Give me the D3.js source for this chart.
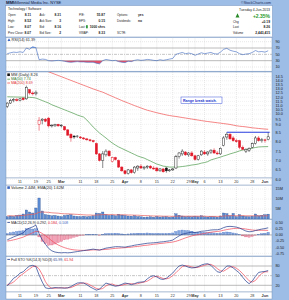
<!DOCTYPE html>
<html>
<head>
<meta charset="utf-8">
<script src="https://d3js.org/d3.v7.min.js"></script>
<style>
  body {margin:0;background:#fff;}
  svg {display:block;font-family:"Liberation Sans", Arial, sans-serif;}
</style>
</head>
<body>
<div id="chart"></div>
<script>
// trading days, Feb 5 .. Jun 4 2013
const dates = ["02-05","02-06","02-07","02-08","02-11","02-12","02-13","02-14","02-15","02-19","02-20","02-21","02-22","02-25","02-26","02-27","02-28",
  "03-01","03-04","03-05","03-06","03-07","03-08","03-11","03-12","03-13","03-14","03-15","03-18","03-19","03-20","03-21","03-22","03-25","03-26","03-27","03-28",
  "04-01","04-02","04-03","04-04","04-05","04-08","04-09","04-10","04-11","04-12","04-15","04-16","04-17","04-18","04-19","04-22","04-23","04-24","04-25","04-26","04-29","04-30",
  "05-01","05-02","05-03","05-06","05-07","05-08","05-09","05-10","05-13","05-14","05-15","05-16","05-17","05-20","05-21","05-22","05-23","05-24","05-28","05-29","05-30","05-31",
  "06-03","06-04"];

const open  = [10.9,11.3,11.6,11.7,11.6,11.9,11.8,12.9,12.5,12.4, 9.0,9.4,9.5,9.6,8.9,8.9,9.0,8.9,8.85,8.65, 8.4,8.3,8.3,8.25,8.2,8.15,8.1,8.05,7.9,7.35,
  7.0,7.3,7.5,6.95,7.15,7.0,6.65,6.45,6.3,6.5, 6.35,6.6,6.7,6.6,6.65,6.7,6.6,6.6,6.45,6.55, 6.6,6.45,6.5,6.6,7.2,7.35,7.45,7.3,7.4,7.25,
  7.05,7.3,7.45,7.35,7.45,7.55,7.4,7.35,7.8,8.25, 8.4,8.2,8.05,8.05,7.7,7.5,7.55,7.7,7.9,8.2, 8.05,8.1,8.11];
const high  = [11.4,11.8,11.9,11.9,11.9,12.0,13.4,13.0,12.7,12.8, 9.7,9.6,9.6,9.7,9.0,9.05,9.05,9.0,8.9,8.7, 8.45,8.35,8.35,8.3,8.25,8.2,8.15,8.1,7.95,7.4,
  7.5,7.6,7.55,7.2,7.2,7.05,6.7,6.5,6.55,6.55, 6.7,6.75,6.8,6.7,6.75,6.75,6.7,6.65,6.6,6.6, 6.65,6.55,6.6,7.3,7.45,7.6,7.5,7.45,7.5,7.3,
  7.3,7.55,7.55,7.5,7.6,7.65,7.5,7.7,8.3,8.5, 8.45,8.3,8.15,8.1,7.8,7.65,7.7,7.95,8.3,8.3, 8.2,8.15,8.52];
const low   = [10.7,11.2,11.4,11.5,11.5,11.6,11.7,12.3,12.2,12.2, 8.6,9.0,9.2,8.8,8.8,8.85,8.85,8.8,8.6,8.3, 8.0,8.15,8.2,8.15,8.1,8.05,8.0,7.95,7.3,6.95,
  6.6,7.2,7.2,6.9,7.0,6.6,6.4,6.25,6.25,6.3, 6.3,6.45,6.55,6.5,6.55,6.55,6.5,6.4,6.4,6.35, 6.35,6.4,6.45,6.55,7.1,7.25,7.25,7.2,7.2,7.0,
  7.0,7.25,7.3,7.25,7.35,7.35,7.3,7.3,7.75,8.1, 8.1,8.0,7.95,7.6,7.55,7.4,7.45,7.65,7.85,8.0, 7.95,7.95,8.07];
const close = [11.3,11.6,11.7,11.6,11.8,11.7,13.2,12.5,12.4,12.6, 9.4,9.5,9.3,8.9,8.95,9.0,8.9,8.95,8.65,8.35, 8.2,8.25,8.3,8.2,8.15,8.1,8.05,8.0,7.35,7.0,
  7.35,7.5,7.25,7.15,7.05,6.65,6.45,6.3,6.5,6.35, 6.65,6.7,6.6,6.65,6.7,6.6,6.55,6.45,6.55,6.4, 6.45,6.5,6.55,7.2,7.4,7.5,7.3,7.4,7.25,7.05,
  7.25,7.5,7.35,7.45,7.55,7.4,7.35,7.65,8.2,8.4, 8.15,8.05,8.0,7.7,7.6,7.6,7.65,7.9,8.2,8.05, 8.1,8.07,8.26];

const ma50  = [12.05,12.04,12.03,12.02,12.01,12.0,11.99,11.98,11.96,11.9, 11.75,11.6,11.45,11.3,11.1,10.95,10.8,10.65,10.5,10.35,
  10.2,10.05,9.9,9.8,9.7,9.42,9.08,8.83,8.64,8.46, 8.33,8.2,8.06,7.93,7.82,7.72,7.64,7.56,7.48,7.4, 7.32,7.24,7.18,7.13,7.05,6.97,6.89,6.81,6.76,6.7,
  6.68,6.65,6.65,6.65,6.66,6.68,6.7,6.73,6.76,6.78, 6.81,6.86,6.89,6.94,7.03,7.08,7.13,7.18,7.24,7.29, 7.35,7.4,7.45,7.51,7.56,7.58,7.61,7.66,7.69,7.72, 7.73,7.735,7.74];
const ma200 = [16.6,16.5,16.4,16.3,16.2,16.1,16.0,15.9,15.8,15.7, 15.55,15.4,15.25,15.1,14.95,14.8,14.65,14.5,14.35,14.2,
  14.05,13.9,13.75,13.6,13.45,13.3,13.15,13.0,12.87,12.73, 12.6,12.43,12.26,12.1,11.93,11.77,11.6,11.45,11.3,11.15, 11.0,10.86,10.72,10.58,10.45,10.35,10.25,10.15,10.06,9.98,
  9.91,9.85,9.8,9.76,9.71,9.66,9.61,9.56,9.51,9.46, 9.41,9.36,9.31,9.27,9.23,9.19,9.15,9.11,9.07,9.03, 8.99,8.95,8.91,8.88,8.86,8.84,8.81,8.78,8.76,8.74, 8.72,8.7,8.69];

// volume in millions
const volume = [1.2,1.5,1.3,1.8,2.0,2.5,4.5,3.5,3.0,5.5, 10.5,4.0,2.2,2.0,1.6,1.8,1.5,1.2,1.8,2.0, 2.2,1.5,1.3,1.2,1.4,1.1,1.3,1.6,3.0,2.8,
  3.5,2.2,1.8,2.0,1.6,2.4,2.0,1.8,1.5,1.4, 1.7,1.2,1.1,0.9,1.0,1.1,0.9,1.3,1.0,1.1, 1.2,0.9,1.0,2.6,1.9,1.5,1.2,1.3,1.1,1.4,
  1.2,1.6,1.1,1.0,1.2,1.1,0.9,1.5,3.0,2.7, 1.6,2.8,1.2,2.2,1.5,1.3,1.2,1.4,2.5,1.6, 1.9,2.2,2.44];
const volEma = [1.6,1.6,1.6,1.6,1.7,1.8,2.0,2.2,2.3,2.6, 3.4,3.5,3.4,3.3,3.1,3.0,2.9,2.7,2.6,2.6, 2.5,2.4,2.3,2.2,2.1,2.0,2.0,1.9,2.0,2.1,
  2.2,2.2,2.2,2.2,2.1,2.1,2.1,2.1,2.0,2.0, 1.9,1.9,1.8,1.7,1.7,1.6,1.5,1.5,1.5,1.4, 1.4,1.4,1.3,1.4,1.4,1.4,1.4,1.4,1.4,1.4,
  1.4,1.4,1.4,1.3,1.3,1.3,1.3,1.3,1.5,1.6, 1.6,1.7,1.6,1.7,1.7,1.6,1.6,1.6,1.6,1.55, 1.55,1.56,1.62];

const rsi = [52,55,57,56,58,56,70,66,74,71, 33,35,34,30,29,30,31,30,28,26, 25,26,27,26,26,25,25,25,22,20,
  30,34,32,30,31,27,25,24,28,27, 31,33,31,32,34,33,31,30,33,31, 33,35,37,50,53,56,52,54,52,47,
  51,55,52,54,56,52,51,57,66,69, 63,60,58,52,49,51,52,56,62,58, 59,57,61.39];

const macd = [-0.20,-0.14,-0.08,-0.03,0.03,0.08,0.22,0.28,0.33,0.40, 0.05,-0.20,-0.38,-0.55,-0.65,-0.70,-0.72,-0.73,-0.72,-0.73,
  -0.72,-0.70,-0.68,-0.66,-0.64,-0.62,-0.60,-0.58,-0.60,-0.62, -0.58,-0.54,-0.52,-0.50,-0.48,-0.48,-0.49,-0.50,-0.47,-0.45,
  -0.42,-0.40,-0.38,-0.36,-0.34,-0.33,-0.32,-0.31,-0.29,-0.28, -0.26,-0.24,-0.21,-0.12,-0.04,0.03,0.06,0.09,0.11,0.10,
  0.12,0.15,0.16,0.18,0.20,0.21,0.21,0.24,0.30,0.34, 0.35,0.34,0.32,0.28,0.22,0.16,0.13,0.14,0.18,0.21, 0.24,0.26,0.292];
const signal = [-0.25,-0.23,-0.20,-0.17,-0.13,-0.09,-0.03,0.03,0.09,0.15, 0.13,0.06,-0.03,-0.13,-0.24,-0.33,-0.41,-0.47,-0.52,-0.56,
  -0.59,-0.61,-0.62,-0.63,-0.63,-0.63,-0.62,-0.61,-0.61,-0.61, -0.60,-0.59,-0.58,-0.56,-0.55,-0.54,-0.53,-0.52,-0.51,-0.50,
  -0.48,-0.47,-0.45,-0.43,-0.42,-0.40,-0.38,-0.37,-0.35,-0.34, -0.32,-0.31,-0.29,-0.26,-0.22,-0.17,-0.12,-0.08,-0.04,-0.01,
  0.01,0.04,0.06,0.09,0.11,0.13,0.14,0.16,0.19,0.22, 0.24,0.26,0.27,0.27,0.26,0.24,0.22,0.20,0.19,0.19, 0.19,0.19,0.184];

const stoK = [18,30,42,48,58,62,72,80,82,78, 52,30,12,10,11,13,12,12,11,12, 16,22,27,28,27,22,15,10,5,8,
  18,27,24,20,17,19,23,27,25,22, 25,29,30,31,40,47,50,46,40,38, 42,50,58,70,80,83,80,76,74,75,
  78,83,86,87,82,72,62,60,70,80, 80,74,66,58,45,33,25,33,48,60, 62,63,65.99];
const stoD = [22,25,30,40,49,56,64,71,78,80, 71,53,31,17,11,11,12,12,12,12, 13,17,22,26,27,26,21,16,10,8,
  10,18,23,24,20,19,20,23,25,25, 24,25,28,30,33,39,46,48,45,41, 40,43,50,59,69,78,81,80,77,75,
  76,79,82,85,85,80,72,65,64,70, 77,78,73,66,56,45,34,30,35,47, 57,62,61.94];

const weekLabels = ["11","19","25","Mar","11","18","25","Apr","8","15","22","29","May","6","13","20","28","Jun"];
const weekDates  = ["02-11","02-19","02-25","03-01","03-11","03-18","03-25","04-01","04-08","04-15","04-22","04-29","05-01","05-06","05-13","05-20","05-28","06-03"];

const priceTicks = [14.5,14.0,13.5,13.0,12.5,12.0,11.5,11.0,10.5,10.0,9.5,9.0,8.5,8.0,7.5,7.0,6.5,6.0];
const rsiTicks = [90,70,50,30,10];
const volTicks = [15,10,5];
const macdTicks = [0.5,0.25,0,-0.25,-0.5,-0.75];
const stoTicks = [80,50,20];

const hdrLeft = [["Open:","8.11","Ask:","8.31","P/E:","55.87","Options:","yes"],
                 ["High:","8.52","Ask Size:","3","EPS:","0.15","Dividends:","no"],
                 ["Low:","8.07","Bid:","8.16","Last:","1000 shrs","",""],
                 ["Prev Close:","8.07","Bid Size:","2","VWAP:","8.33","SCTR:",""]];
const hdrRight = [["Chg","+0.19"],["Last","8.26"],["Volume","2,443,415"]];

// ---------------------------------------------------------------
const W = 289, H = 300, X0 = 6, X1 = 272, AX = 275.5;
const svg = d3.select("#chart").append("svg").attr("width", W).attr("height", H);
svg.append("rect").attr("width", W).attr("height", H).attr("fill", "#9dbce6");

const x = d3.scaleLinear().domain([-0.4, dates.length + 0.2]).range([X0, X1]);
const idx = d => dates.indexOf(d);

function txt(g, px, py, s, o = {}) {
  return g.append("text").attr("x", px).attr("y", py).text(s)
    .attr("font-size", o.size || 4).attr("fill", o.fill || "#222")
    .attr("font-weight", o.bold ? "bold" : null)
    .attr("text-anchor", o.anchor || "start");
}

const panels = {
  rsi:   [37.5, 71.2],
  price: [72, 178],
  vol:   [185, 219],
  macd:  [219.5, 256],
  sto:   [256.5, 292]
};

// title
txt(svg, 6, 4.4, "MM", {size: 4.4, bold: true, fill: "#101838"});
txt(svg, 13, 4.4, "Millennial Media Inc.  NYSE", {size: 4.0, fill: "#101838"});
txt(svg, 271, 4.4, "©StockCharts.com", {size: 3.6, fill: "#20305a", anchor: "end"});

// header box
svg.append("rect").attr("x", 5.5).attr("y", 5.5).attr("width", X1 - 5).attr("height", 31.5)
  .attr("fill", "#fff").attr("stroke", "#6f8fbf").attr("stroke-width", 0.5);
txt(svg, 8, 9.6, "Technology / Software", {size: 3.4});
const colX = [[8, 31], [39.5, 61], [79, 105], [117, 138]];
hdrLeft.forEach((row, r) => {
  const yy = 16.4 + r * 5.7;
  for (let c = 0; c < 4; c++) {
    txt(svg, colX[c][0], yy, row[c * 2], {size: 3.0});
    if (c < 3) txt(svg, colX[c][1], yy, row[c * 2 + 1], {size: 3.3, bold: true, anchor: "end"});
    else txt(svg, colX[c][1], yy, row[c * 2 + 1], {size: 3.3, bold: true});
  }
});
svg.append("rect").attr("x", 86).attr("y", 25.2).attr("width", 1.8).attr("height", 3.1).attr("fill", "#2e9a3c");
txt(svg, 270, 10.8, "Tuesday  4-Jun-2013", {size: 3.4, anchor: "end"});
txt(svg, 270, 17.6, "+2.35%", {size: 5.0, bold: true, fill: "#2a9a2a", anchor: "end"});
svg.append("path").attr("d", "M235.5,17.4 L237.5,13.2 L239.5,17.4 Z").attr("fill", "#2a8a2a");
hdrRight.forEach((r, k) => {
  const yy = 22.6 + k * 5.7;
  txt(svg, 233, yy, r[0], {size: 3.1});
  txt(svg, 270, yy, r[1], {size: 3.3, bold: true, anchor: "end"});
});

// panel backgrounds
Object.values(panels).forEach(([a, b]) => {
  svg.append("rect").attr("x", X0).attr("y", a).attr("width", X1 - X0).attr("height", b - a)
    .attr("fill", "#fff").attr("stroke", "#7d97bd").attr("stroke-width", 0.5);
});
// date strips
[[178, 185], [292, 299]].forEach(([a, b]) => {
  svg.append("rect").attr("x", X0).attr("y", a).attr("width", X1 - X0).attr("height", b - a)
    .attr("fill", "#fff").attr("stroke", "#7d97bd").attr("stroke-width", 0.5);
});

// vertical grid + date labels
Object.values(panels).forEach(([a, b]) => {
  weekDates.forEach(d => {
    svg.append("line").attr("x1", x(idx(d))).attr("x2", x(idx(d))).attr("y1", a).attr("y2", b)
      .attr("stroke", "#c4c4c4").attr("stroke-width", 0.4).attr("stroke-dasharray", "1,1");
  });
});
[182.6, 297.3].forEach(yy => {
  weekLabels.forEach((l, k) => {
    const month = isNaN(+l);
    txt(svg, x(idx(weekDates[k])), yy, l, {size: 3.8, anchor: "middle", bold: month, fill: "#333"});
  });
});

function hline(y, style) {
  const l = svg.append("line").attr("x1", X0).attr("x2", X1).attr("y1", y).attr("y2", y)
    .attr("stroke", style.c || "#999").attr("stroke-width", style.w || 0.5);
  if (style.dash) l.attr("stroke-dasharray", style.dash);
  return l;
}
function axisLabels(ticks, scale, fmt) {
  ticks.forEach(t => txt(svg, AX, scale(t) + 1.4, fmt(t), {size: 3.8, fill: "#1a1a1a"}));
}
function clip(id, [a, b]) {
  svg.append("clipPath").attr("id", id).append("rect")
    .attr("x", X0).attr("y", a).attr("width", X1 - X0).attr("height", b - a);
  return svg.append("g").attr("clip-path", `url(#${id})`);
}

// ---------------- RSI ----------------
const yRsi = d3.scaleLinear().domain([90, 10]).range([41.7, 67]);
[90, 10].forEach(v => hline(yRsi(v), {c: "#c4c4c4", w: 0.4, dash: "1,1"}));
hline(yRsi(70), {c: "#8c8c8c", w: 0.6});
hline(yRsi(30), {c: "#8c8c8c", w: 0.6});
hline(yRsi(50), {c: "#8c8c8c", w: 0.5, dash: "3,1,1,1"});
const gR = clip("cr", panels.rsi);
gR.append("path").datum(rsi)
  .attr("d", d3.area().x((d, i) => x(i)).y0(yRsi(70)).y1(d => yRsi(Math.max(d, 70))))
  .attr("fill", "#7aa0e0");
gR.append("path").datum(rsi)
  .attr("d", d3.area().x((d, i) => x(i)).y0(yRsi(30)).y1(d => yRsi(Math.min(d, 30))))
  .attr("fill", "#e0506a");
gR.append("path").datum(rsi)
  .attr("d", d3.line().x((d, i) => x(i)).y(d => yRsi(d)))
  .attr("fill", "none").attr("stroke", "#3d68c0").attr("stroke-width", 0.6);
axisLabels(rsiTicks, yRsi, d => d);
svg.append("path").attr("d", "M7.5,41 L9,38.2 L10.5,41 Z").attr("fill", "#3d68c0");
txt(svg, 11.5, 41, "RSI(14) 61.39", {size: 3.8});

// ---------------- Price ----------------
const yPrice = d3.scaleLinear()
  .domain([6.0, 8.5, 9.0, 10.0, 12.5, 14.5])
  .range([179.3, 132.3, 124.3, 114, 93, 76.7]);
priceTicks.forEach(t => hline(yPrice(t), {c: "#d6d6d6", w: 0.35, dash: "1,1"}));
axisLabels(priceTicks, yPrice, d => d.toFixed(1));
const gP = clip("cp", panels.price);
const lineP = d3.line().x((d, i) => x(i)).y(d => yPrice(d));
gP.append("path").datum(ma200).attr("d", lineP).attr("fill", "none")
  .attr("stroke", "#f05050").attr("stroke-width", 0.7);
gP.append("path").datum(ma50).attr("d", lineP).attr("fill", "none")
  .attr("stroke", "#4c9a4c").attr("stroke-width", 0.7);

const candles = gP.selectAll("g.c").data(dates).join("g").attr("class", "c");
const col = i => close[i] >= (i ? close[i - 1] : open[i]) ? "#111" : "#e01828";
candles.append("line")
  .attr("x1", (d, i) => x(i)).attr("x2", (d, i) => x(i))
  .attr("y1", (d, i) => yPrice(high[i])).attr("y2", (d, i) => yPrice(low[i]))
  .attr("stroke", (d, i) => col(i)).attr("stroke-width", 0.5);
candles.append("rect")
  .attr("x", (d, i) => x(i) - 1.1).attr("width", 2.2)
  .attr("y", (d, i) => yPrice(Math.max(open[i], close[i])))
  .attr("height", (d, i) => Math.max(0.5, Math.abs(yPrice(open[i]) - yPrice(close[i]))))
  .attr("fill", (d, i) => close[i] >= open[i] ? "#fff" : col(i))
  .attr("stroke", (d, i) => col(i)).attr("stroke-width", 0.45);

// resistance line + note
gP.append("line").attr("x1", x(idx("05-15"))).attr("x2", x(idx("06-04")) + 1.5)
  .attr("y1", yPrice(8.5)).attr("y2", yPrice(8.5))
  .attr("stroke", "#2a3fe0").attr("stroke-width", 1.1);
svg.append("rect").attr("x", 181).attr("y", 97).attr("width", 41).attr("height", 6.5)
  .attr("fill", "#fff").attr("stroke", "#3a55d8").attr("stroke-width", 0.5);
txt(svg, 183, 101.7, "Range break watch.", {size: 3.6, fill: "#2233cc", bold: true});

// price labels
svg.append("rect").attr("x", 7.3).attr("y", 73.4).attr("width", 2.6).attr("height", 2.6).attr("fill", "#111");
txt(svg, 11, 76.2, "MM (Daily) 8.26", {size: 3.8});
svg.append("line").attr("x1", 7.3).attr("x2", 10).attr("y1", 79.2).attr("y2", 79.2).attr("stroke", "#4c9a4c").attr("stroke-width", 0.8);
txt(svg, 11, 80.4, "MA(50) 7.74", {size: 3.6, fill: "#2e7a2e"});
svg.append("line").attr("x1", 7.3).attr("x2", 10).attr("y1", 83).attr("y2", 83).attr("stroke", "#f05050").attr("stroke-width", 0.8);
txt(svg, 11, 84.2, "MA(200) 8.69", {size: 3.6, fill: "#e03030"});

// ---------------- Volume ----------------
const yVol = d3.scaleLinear().domain([0, 15]).range([219, 189]);
volTicks.forEach(t => hline(yVol(t), {c: "#d6d6d6", w: 0.35, dash: "1,1"}));
axisLabels(volTicks, yVol, d => d + "M");
const gV = clip("cv", panels.vol);
gV.selectAll("rect").data(volume).join("rect")
  .attr("x", (d, i) => x(i) - 1.2).attr("width", 2.4)
  .attr("y", d => yVol(d)).attr("height", d => yVol(0) - yVol(d))
  .attr("fill", "#5a8ad2").attr("stroke", "#2c4f8c").attr("stroke-width", 0.3);
gV.append("path").datum(volEma).attr("d", d3.line().x((d, i) => x(i)).y(d => yVol(d)))
  .attr("fill", "none").attr("stroke", "#e85a5a").attr("stroke-width", 0.7);
svg.append("rect").attr("x", 7.3).attr("y", 186.3).attr("width", 2.6).attr("height", 2.6).attr("fill", "#3d68c0");
txt(svg, 11, 189, "Volume 2.44M, EMA(20) 1.62M", {size: 3.8});

// ---------------- MACD ----------------
const yMacd = d3.scaleLinear().domain([0.5, -0.75]).range([222.7, 253.3]);
macdTicks.forEach(t => hline(yMacd(t), {c: "#d6d6d6", w: 0.35, dash: "1,1"}));
axisLabels(macdTicks, yMacd, d => d.toFixed(2));
const gM = clip("cm", panels.macd);
const hist = macd.map((m, i) => m - signal[i]);
gM.selectAll("rect").data(hist).join("rect")
  .attr("x", (d, i) => x(i) - 1.2).attr("width", 2.4)
  .attr("y", d => yMacd(Math.max(0, d))).attr("height", d => Math.abs(yMacd(d) - yMacd(0)))
  .attr("fill", d => d >= 0 ? "#86a8e0" : "#f2a4b6")
  .attr("stroke", d => d >= 0 ? "#3d68c0" : "#d8406a").attr("stroke-width", 0.3);
gM.append("line").attr("x1", X0).attr("x2", X1).attr("y1", yMacd(0)).attr("y2", yMacd(0))
  .attr("stroke", "#555").attr("stroke-width", 0.4);
const lineM = d3.line().x((d, i) => x(i)).y(d => yMacd(d));
gM.append("path").datum(signal).attr("d", lineM).attr("fill", "none").attr("stroke", "#f04a5a").attr("stroke-width", 0.7);
gM.append("path").datum(macd).attr("d", lineM).attr("fill", "none").attr("stroke", "#1e3a8c").attr("stroke-width", 0.7);
svg.append("line").attr("x1", 7.3).attr("x2", 10).attr("y1", 222.4).attr("y2", 222.4).attr("stroke", "#1e3a8c").attr("stroke-width", 0.8);
const mt = svg.append("text").attr("x", 11).attr("y", 223.6).attr("font-size", 3.6);
mt.append("tspan").attr("fill", "#222").text("MACD(12,26,9) 0.292, ");
mt.append("tspan").attr("fill", "#e02030").text("0.184, ");
mt.append("tspan").attr("fill", "#3d68c0").text("0.108");

// ---------------- Full STO ----------------
const ySto = d3.scaleLinear().domain([80, 20]).range([266, 285.3]);
hline(ySto(80), {c: "#8c8c8c", w: 0.6});
hline(ySto(20), {c: "#8c8c8c", w: 0.6});
hline(ySto(50), {c: "#8c8c8c", w: 0.5, dash: "3,1,1,1"});
axisLabels(stoTicks, ySto, d => d);
const gS = clip("cs", panels.sto);
const lineS = d3.line().x((d, i) => x(i)).y(d => ySto(d));
gS.append("path").datum(stoD).attr("d", lineS).attr("fill", "none").attr("stroke", "#f04a5a").attr("stroke-width", 0.7);
gS.append("path").datum(stoK).attr("d", lineS).attr("fill", "none").attr("stroke", "#1e3a8c").attr("stroke-width", 0.7);
svg.append("line").attr("x1", 7.3).attr("x2", 10).attr("y1", 259.4).attr("y2", 259.4).attr("stroke", "#1e3a8c").attr("stroke-width", 0.8);
const st = svg.append("text").attr("x", 11).attr("y", 260.6).attr("font-size", 3.6);
st.append("tspan").attr("fill", "#222").text("Full STO %K(14,3) %D(3) ");
st.append("tspan").attr("fill", "#1e3a8c").text("65.99, ");
st.append("tspan").attr("fill", "#e02030").text("61.94");
</script>
</body>
</html>
